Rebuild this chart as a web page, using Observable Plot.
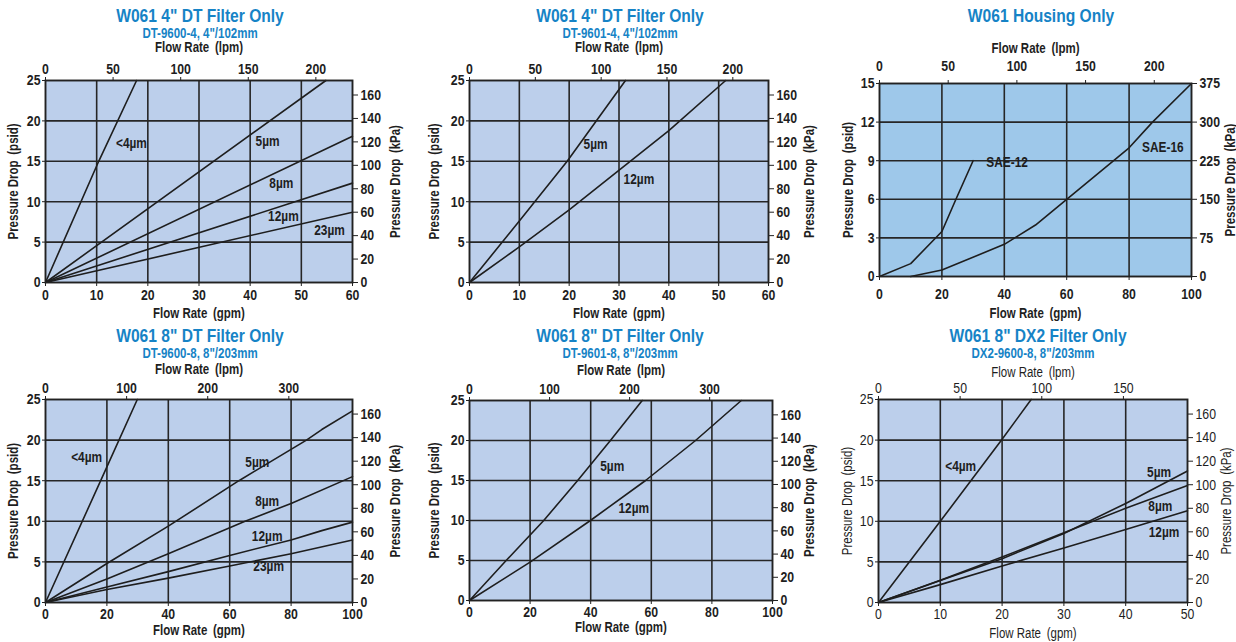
<!DOCTYPE html>
<html>
<head>
<meta charset="utf-8">
<script src="https://cdn.jsdelivr.net/npm/d3@7"></script>
<script src="https://cdn.jsdelivr.net/npm/@observablehq/plot@0.6"></script>
<style>
  html, body { margin: 0; padding: 0; background: #fff; }
  body { position: relative; width: 1236px; height: 642px; overflow: hidden;
         font-family: "Liberation Sans", Arial, sans-serif; }
  .title { position: absolute; transform: translate(-50%, -50%) scaleX(0.82); white-space: nowrap;
           color: #1683c6; font-weight: bold; font-size: 19px; line-height: 1; }
  .sub { position: absolute; transform: translate(-50%, -50%) scaleX(0.82); white-space: nowrap;
         color: #1683c6; font-weight: bold; font-size: 14px; line-height: 1; }
  .panel { position: absolute; }
</style>
</head>
<body>
<script>
// ---------- DATA (gpm, psid) ----------
// Panel 1: W061 4" DT Filter Only, DT-9600-4
const dt96004Lt4 = [[0,0],[10.4,15],[17.8,25]];
const dt96004_5  = [[0,0],[54.8,25]];
const dt96004_8  = [[0,0],[60,18.1]];
const dt96004_12 = [[0,0],[60,12.3]];
const dt96004_23 = [[0,0],[60,8.7]];
// Panel 2: W061 4" DT Filter Only, DT-9601-4
const dt96014_5  = [[0,0],[10,7.6],[19.6,15],[31.3,25]];
const dt96014_12 = [[0,0],[10,4.4],[20,9.0],[40,18.8],[51.4,25]];
// Panel 3: W061 Housing Only
const sae12 = [[0,0],[10,1],[20,3.5],[24.5,6],[30,9]];
const sae16 = [[10,0],[20,0.5],[40,2.5],[50,4],[60,6],[80,10],[87.5,12],[100,15]];
// Panel 4: W061 8" DT Filter Only, DT-9600-8
const dt96008Lt4 = [[0,0],[20,16.7],[29.9,25]];
const dt96008_5  = [[0,0],[20,4.8],[40,9.4],[63,15],[85,20],[90,21.3],[100,23.6]];
const dt96008_8  = [[0,0],[20,2.9],[40,6],[65,10],[80,12.2],[100,15.5]];
const dt96008_12 = [[0,0],[20,1.9],[40,3.8],[60,5.8],[80,7.7],[90,8.85],[100,9.9]];
const dt96008_23 = [[0,0],[20,1.6],[40,3.0],[60,4.5],[80,6.0],[100,7.7]];
// Panel 5: W061 8" DT Filter Only, DT-9601-8
const dt96018_5  = [[0,0],[12.1,5],[24.5,10],[35.7,15],[46.5,20],[57,25]];
const dt96018_12 = [[0,0],[20,4.8],[39.9,10],[58.1,15],[74.6,20],[89.7,25]];
// Panel 6: W061 8" DX2 Filter Only, DX2-9600-8
const dx2Lt4 = [[0,0],[10,10],[20,20.1],[24.7,25]];
const dx2_5  = [[0,0],[10,2.7],[20,5.4],[30,8.5],[40,12.2],[50,16.2]];
const dx2_8  = [[0,0],[10,2.75],[20,5.6],[30,8.6],[40,11.6],[50,14.4]];
const dx2_12 = [[0,0],[10,2.2],[20,4.5],[30,6.7],[40,9.0],[50,11.3]];

// Series label anchors (in data units)
const p1LabelText = ["<4µm","5µm","8µm","12µm","23µm"];
const p1LabelGpm  = [16.8, 43.4, 46.1, 46.5, 55.5];
const p1LabelPsid = [17.2, 17.5, 12.25, 8.2, 6.4];
const p2LabelText = ["5µm","12µm"];
const p2LabelGpm  = [25.3, 34.0];
const p2LabelPsid = [17.1, 12.8];
const p3LabelText = ["SAE-12","SAE-16"];
const p3LabelGpm  = [40.9, 90.8];
const p3LabelPsid = [8.9, 10.05];
const p4LabelText = ["<4µm","5µm","8µm","12µm","23µm"];
const p4LabelGpm  = [13.4, 69, 72.2, 72.2, 72.7];
const p4LabelPsid = [17.9, 17.3, 12.5, 8.2, 4.5];
const p5LabelText = ["5µm","12µm"];
const p5LabelGpm  = [47.1, 54.2];
const p5LabelPsid = [16.8, 11.5];
const p6LabelText = ["<4µm","5µm","8µm","12µm"];
const p6LabelGpm  = [13.3, 45.4, 45.6, 46.2];
const p6LabelPsid = [16.8, 16.0, 11.8, 8.7];

// Ticks
const gpmTicks60  = [0,10,20,30,40,50,60];
const gpmTicks100 = [0,20,40,60,80,100];
const gpmTicks50  = [0,10,20,30,40,50];
const psidTicks25 = [0,5,10,15,20,25];
const psidTicks15 = [0,3,6,9,12,15];
const lpmTicks200 = [0,50,100,150,200];
const lpmTicks300 = [0,100,200,300];
const lpmTicks150 = [0,50,100,150];
const kpaTicks160 = [0,20,40,60,80,100,120,140,160];
const kpaTicks375 = [0,75,150,225,300,375];

// Titles
const titles = ['W061 4" DT Filter Only','W061 4" DT Filter Only','W061 Housing Only',
                'W061 8" DT Filter Only','W061 8" DT Filter Only','W061 8" DX2 Filter Only'];
const subtitles = ['DT-9600-4, 4"/102mm','DT-9601-4, 4"/102mm','',
                   'DT-9600-8, 8"/203mm','DT-9601-8, 8"/203mm','DX2-9600-8, 8"/203mm'];

// ---------- helpers ----------
function rows(pairs, name) { return pairs.map(([g, p]) => ({series: name, gpm: g, psid: p})); }
function labelRows(t, g, p) { return t.map((s, i) => ({text: s, gpm: g[i], psid: p[i]})); }

const FONT = '"Liberation Sans", Arial, sans-serif';
const INK = "#1e1e1e";
const SQUEEZE = 0.82;

// Narrow the glyphs of every text horizontally (a condensed face is not installed).
function condense(root, s) {
  const isNum = v => v != null && /^\s*-?[\d.]+(e[-+]?\d+)?\s*$/i.test(v);
  root.querySelectorAll("text").forEach(t => {
    const tr = t.getAttribute("transform") || "";
    const x = t.getAttribute("x"), y = t.getAttribute("y");
    let tx = 0, ty = 0;
    if (isNum(x)) { tx = +x; t.removeAttribute("x"); }
    if (isNum(y)) { ty = +y; t.removeAttribute("y"); }
    t.setAttribute("transform", `${tr} translate(${tx},${ty}) scale(${s},1)`.trim());
  });
}

function panel(cfg) {
  const weight = cfg.weight || "bold";
  const titleOpts = {text: d => d, fill: INK, fontSize: 14, fontWeight: weight, textAnchor: "middle", lineAnchor: "middle"};
  const tick = {fill: INK, stroke: "#222", fontSize: 15, label: null};
  const plot = Plot.plot({
    width: cfg.width, height: cfg.height,
    marginLeft: cfg.mL, marginRight: cfg.mR, marginTop: cfg.mT, marginBottom: cfg.mB,
    x: {domain: cfg.xDomain, nice: false},
    y: {domain: cfg.yDomain, nice: false},
    style: {fontFamily: FONT, fontSize: "15px", fontWeight: weight, color: INK, background: "transparent", overflow: "visible"},
    marks: [
      Plot.frame({fill: cfg.bg}),
      Plot.gridX(cfg.xTicks.slice(1, -1), {stroke: "#262626", strokeOpacity: 1, strokeWidth: 1.6}),
      Plot.gridY(cfg.yTicks.slice(1, -1), {stroke: "#262626", strokeOpacity: 1, strokeWidth: 1.6}),
      Plot.line(cfg.data, {x: "gpm", y: "psid", z: "series", stroke: INK, strokeWidth: 1.6, curve: "linear"}),
      Plot.text(cfg.labels, {x: "gpm", y: "psid", text: "text", fill: INK, fontSize: 14.5, fontWeight: "bold"}),
      Plot.frame({stroke: "#222", strokeWidth: 1.9}),
      Plot.axisX(cfg.xTicks, {anchor: "bottom", tickSize: 4, tickPadding: cfg.botPad ?? 2, ...tick}),
      Plot.axisX(cfg.lpmTicks.map(v => v / cfg.lpmFactor), {anchor: "top", tickSize: 4, tickPadding: cfg.topPad ?? 3, ...tick,
        tickFormat: d => String(Math.round(d * cfg.lpmFactor))}),
      Plot.axisY(cfg.yTicks, {anchor: "left", tickSize: 3, tickPadding: 2, ...tick}),
      Plot.axisY(cfg.kpaTicks.map(v => v / cfg.kpaFactor), {anchor: "right", tickSize: 5, tickPadding: 3, ...tick,
        tickFormat: d => String(Math.round(d * cfg.kpaFactor))}),
      Plot.text(["Flow Rate\u2002(lpm)"], {frameAnchor: "top", dy: -cfg.topTitle, ...titleOpts}),
      Plot.text(["Flow Rate\u2002(gpm)"], {frameAnchor: "bottom", dy: cfg.botTitle, ...titleOpts}),
      Plot.text(["Pressure Drop\u2002(psid)"], {frameAnchor: "left", dx: -cfg.leftTitle, rotate: -90, ...titleOpts}),
      Plot.text(["Pressure Drop\u2002(kPa)"], {frameAnchor: "right", dx: cfg.rightTitle, rotate: -90, ...titleOpts})
    ]
  });
  condense(plot, SQUEEZE);
  const div = document.createElement("div");
  div.className = "panel";
  div.style.left = cfg.left + "px";
  div.style.top = cfg.top + "px";
  div.appendChild(plot);
  document.body.appendChild(div);
}

function addTitle(text, cx, cy, cls) {
  if (!text) return;
  const d = document.createElement("div");
  d.className = cls;
  d.textContent = text;
  d.style.left = cx + "px";
  d.style.top = cy + "px";
  document.body.appendChild(d);
}

const BG = "#bccfeb";
const BG_HOUSING = "#9ec8ea";

// Panel 1
panel({left: 0, top: 40, width: 410, height: 282, mL: 45, mR: 58, mT: 40, mB: 40,
  xDomain: [0, 60], yDomain: [0, 25], xTicks: gpmTicks60, yTicks: psidTicks25,
  lpmTicks: lpmTicks200, lpmFactor: 3.785, kpaTicks: kpaTicks160, kpaFactor: 6.895,
  bg: BG, topTitle: 33, botTitle: 31, leftTitle: 32, rightTitle: 43, botPad: 3,
  data: [...rows(dt96004Lt4, "<4µm"), ...rows(dt96004_5, "5µm"), ...rows(dt96004_8, "8µm"),
         ...rows(dt96004_12, "12µm"), ...rows(dt96004_23, "23µm")],
  labels: labelRows(p1LabelText, p1LabelGpm, p1LabelPsid)});
// Panel 2
panel({left: 420, top: 40, width: 410, height: 282, mL: 49, mR: 62, mT: 40, mB: 40,
  xDomain: [0, 60], yDomain: [0, 25], xTicks: gpmTicks60, yTicks: psidTicks25,
  lpmTicks: lpmTicks200, lpmFactor: 3.785, kpaTicks: kpaTicks160, kpaFactor: 6.895,
  bg: BG, topTitle: 33, botTitle: 31, leftTitle: 35, rightTitle: 41, botPad: 3,
  data: [...rows(dt96014_5, "5µm"), ...rows(dt96014_12, "12µm")],
  labels: labelRows(p2LabelText, p2LabelGpm, p2LabelPsid)});
// Panel 3
panel({left: 830, top: 40, width: 406, height: 282, mL: 49, mR: 45, mT: 43, mB: 46,
  xDomain: [0, 100], yDomain: [0, 15], xTicks: gpmTicks100, yTicks: psidTicks15,
  lpmTicks: lpmTicks200, lpmFactor: 2.271, kpaTicks: kpaTicks375, kpaFactor: 25,
  bg: BG_HOUSING, topTitle: 35, botTitle: 37, leftTitle: 31, rightTitle: 39, topPad: 9, botPad: 8,
  data: [...rows(sae12, "SAE-12"), ...rows(sae16, "SAE-16")],
  labels: labelRows(p3LabelText, p3LabelGpm, p3LabelPsid)});
// Panel 4
panel({left: 0, top: 360, width: 410, height: 282, mL: 45, mR: 58, mT: 39, mB: 40,
  xDomain: [0, 100], yDomain: [0, 25], xTicks: gpmTicks100, yTicks: psidTicks25,
  lpmTicks: lpmTicks300, lpmFactor: 3.785, kpaTicks: kpaTicks160, kpaFactor: 6.895,
  bg: BG, topTitle: 30, botTitle: 28, leftTitle: 32, rightTitle: 43,
  data: [...rows(dt96008Lt4, "<4µm"), ...rows(dt96008_5, "5µm"), ...rows(dt96008_8, "8µm"),
         ...rows(dt96008_12, "12µm"), ...rows(dt96008_23, "23µm")],
  labels: labelRows(p4LabelText, p4LabelGpm, p4LabelPsid)});
// Panel 5
panel({left: 420, top: 360, width: 410, height: 282, mL: 49, mR: 58, mT: 40, mB: 42,
  xDomain: [0, 100], yDomain: [0, 25], xTicks: gpmTicks100, yTicks: psidTicks25,
  lpmTicks: lpmTicks300, lpmFactor: 3.785, kpaTicks: kpaTicks160, kpaFactor: 6.895,
  bg: BG, topTitle: 30, botTitle: 27, leftTitle: 35, rightTitle: 37,
  data: [...rows(dt96018_5, "5µm"), ...rows(dt96018_12, "12µm")],
  labels: labelRows(p5LabelText, p5LabelGpm, p5LabelPsid)});
// Panel 6
panel({left: 830, top: 360, width: 406, height: 282, mL: 48, mR: 49, mT: 39, mB: 40,
  xDomain: [0, 50], yDomain: [0, 25], xTicks: gpmTicks50, yTicks: psidTicks25,
  lpmTicks: lpmTicks150, lpmFactor: 3.785, kpaTicks: kpaTicks160, kpaFactor: 6.895,
  bg: BG, topTitle: 27, botTitle: 31, leftTitle: 31, rightTitle: 39, weight: "normal",
  data: [...rows(dx2Lt4, "<4µm"), ...rows(dx2_5, "5µm"), ...rows(dx2_8, "8µm"), ...rows(dx2_12, "12µm")],
  labels: labelRows(p6LabelText, p6LabelGpm, p6LabelPsid)});

// Titles
const titleX = [199.5, 619.5, 1040.5, 199.5, 619.5, 1037.5];
const subX   = [199.5, 619.5, 1040.5, 199.5, 619.5, 1033];
titles.forEach((t, i) => addTitle(t, titleX[i], i < 3 ? 15 : 335, "title"));
subtitles.forEach((t, i) => addTitle(t, subX[i], i < 3 ? 33 : 353, "sub"));
</script>
</body>
</html>
